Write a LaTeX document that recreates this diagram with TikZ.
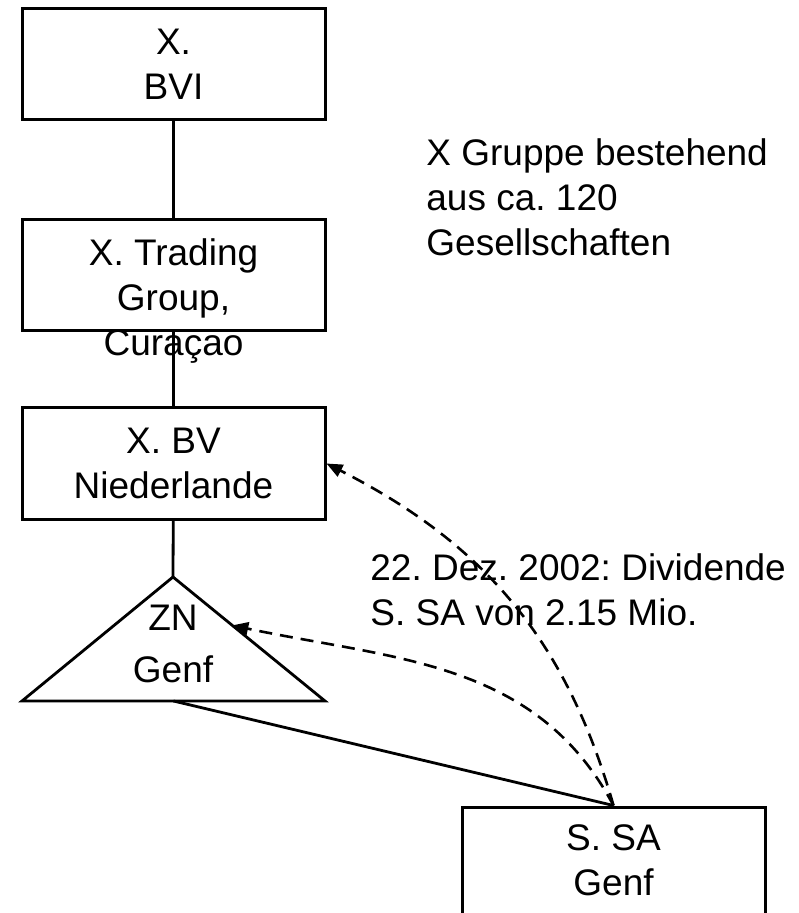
\documentclass[tikz,border=0pt]{standalone}
\usepackage{fontspec}
\setmainfont{Liberation Sans}
\usetikzlibrary{positioning, arrows.meta}

\begin{document}
\begin{tikzpicture}[x=0.5pt, y=0.5pt,
    font=\fontsize{18.5}{22.5}\selectfont\frenchspacing,
    firm/.style={draw, line width=1.5pt, minimum width=151.5pt, minimum height=55.5pt, inner sep=0pt},
    firmtext/.style={align=center, anchor=base, inner sep=0pt},
    note/.style={align=left, anchor=base west, inner sep=0pt},
    own/.style={line width=1.4pt},
    flow/.style={dashed, dash pattern=on 6.5pt off 4pt, line width=1.3pt, -{Triangle[length=8pt, width=6.5pt]}}]

    \useasboundingbox (0,0) rectangle (798,-913);

    % companies
    \node[firm] (bvi) at (173.5,-64.5) {};
    \node[firm] (trading) at (173.5,-275.5) {};
    \node[firm] (nl) at (173.5,-463.5) {};
    \node[firm] (ssa) at (613.5,-862.5) {};

    % branch (triangle)
    \coordinate (zn top) at (173,-577);
    \coordinate (zn left) at (22,-701);
    \coordinate (zn right) at (325,-701);
    \draw[own] (zn top) -- (zn right) -- (zn left) -- cycle;
    \path (zn left) -- (zn right) coordinate[midway] (zn base);
    \path (zn top) -- (zn right) coordinate[pos=0.39] (zn side);

    % holdings
    \draw[own] (bvi) -- (trading);
    \draw[own] (trading) -- (nl);
    \draw[own] (nl) -- (zn top);
    \draw[own] (zn base) -- (ssa.north);

    % dividend flows
    \draw[flow] (ssa.north) to[out=106, in=-27] (nl.east);
    \draw[flow] (ssa.north) to[out=118, in=-12] (zn side);

    % texts (anchored at the baseline of the last line)
    \node[firmtext] (bvi text) at (173.5,-100) {X.\\BVI};
    \node[firmtext] (trading text) at (173.5,-356) {X. Trading\\Group,\\Curaçao};
    \node[firmtext] (nl text) at (173.5,-498) {X. BV\\Niederlande};
    \node[firmtext] (zn text) at (173,-682) {ZN\\[3.5pt]Genf};
    \node[firmtext] (ssa text) at (613.5,-895) {S. SA\\Genf};

    \node[note] (group) at (426,-256) {X Gruppe bestehend\\aus ca. 120\\Gesellschaften};
    \node[note] (dividend) at (370,-625) {22. Dez. 2002: Dividende\\S. SA von 2.15 Mio.};
\end{tikzpicture}
\end{document}
